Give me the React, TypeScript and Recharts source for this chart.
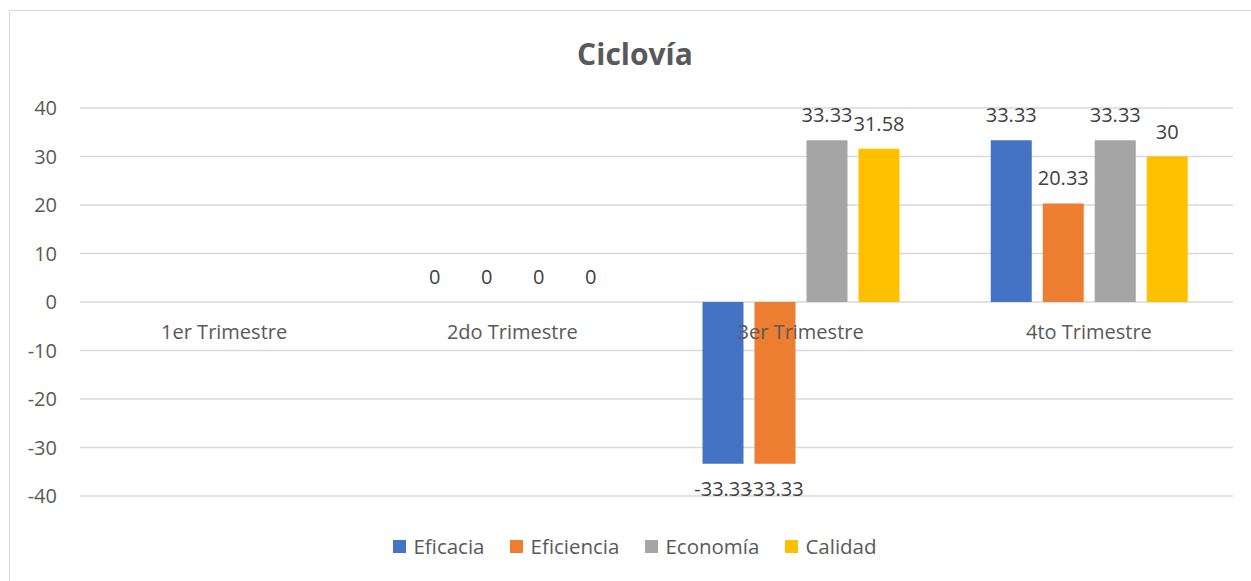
import { BarChart, Bar, XAxis, YAxis, CartesianGrid, Legend, LabelList } from "recharts";

const trimestres = ["1er Trimestre", "2do Trimestre", "3er Trimestre", "4to Trimestre"];
const eficacia = [null, 0, -33.33, 33.33];
const eficiencia = [null, 0, -33.33, 20.33];
const economia = [null, 0, 33.33, 33.33];
const calidad = [null, 0, 31.58, 30];
const yTicks = [-40, -30, -20, -10, 0, 10, 20, 30, 40];

const series = [
  { key: "Eficacia", values: eficacia, color: "#4472C4" },
  { key: "Eficiencia", values: eficiencia, color: "#ED7D31" },
  { key: "Economía", values: economia, color: "#A5A5A5" },
  { key: "Calidad", values: calidad, color: "#FFC000" },
];

const data = trimestres.map((name, i) => {
  const row: Record<string, string | number | null> = { name };
  series.forEach((s) => (row[s.key] = s.values[i]));
  return row;
});

const FONT = "'Open Sans', sans-serif";

const CategoryTick = (props: any) => {
  const { x, y, payload } = props;
  return (
    <text x={x} y={y} dy={-165} textAnchor="middle" fill="#595959" fontSize={20} fontFamily={FONT}>
      {payload.value}
    </text>
  );
};

const LegendContent = () => (
  <div style={{ display: "flex", justifyContent: "center", fontFamily: FONT, fontSize: 20.5, color: "#595959" }}>
    {series.map((s, i) => (
      <div
        key={s.key}
        style={{ display: "flex", alignItems: "center", marginRight: i === series.length - 1 ? 0 : 26 }}
      >
        <span style={{ width: 13, height: 13, background: s.color, display: "inline-block", marginRight: 7 }} />
        <span>{s.key}</span>
      </div>
    ))}
  </div>
);

export default function App() {
  return (
    <div style={{ position: "absolute", left: 0, top: 0, width: 1251, height: 581, overflow: "hidden", background: "#fff" }}>
      <div
        style={{
          position: "absolute",
          left: 9,
          top: 10,
          width: 1300,
          height: 700,
          border: "1px solid #D9D9D9",
        }}
      />
      <div
        style={{
          position: "absolute",
          top: 33,
          left: 0,
          width: 1270,
          textAlign: "center",
          fontFamily: FONT,
          fontWeight: 700,
          fontSize: 30,
          color: "#595959",
        }}
      >
        Ciclovía
      </div>
      <BarChart
        width={1251}
        height={581}
        data={data}
        margin={{ top: 108, right: 18, left: 0, bottom: 55 }}
        barSize={41}
        barGap={11}
      >
        <CartesianGrid vertical={false} stroke="#D9D9D9" strokeWidth={1.3} />
        <XAxis
          dataKey="name"
          height={30}
          axisLine={false}
          tickLine={false}
          tick={<CategoryTick />}
          interval={0}
        />
        <YAxis
          width={80}
          domain={[-40, 40]}
          ticks={yTicks}
          axisLine={false}
          tickLine={false}
          tickMargin={17}
          tick={{ fill: "#595959", fontSize: 20, fontFamily: FONT }}
        />
        <Legend
          verticalAlign="middle"
          content={<LegendContent />}
          wrapperStyle={{ top: 532, left: 0, width: 1270 }}
        />
        {series.map((s) => (
          <Bar
            key={s.key}
            dataKey={s.key}
            fill={s.color}
            isAnimationActive={false}
            minPointSize={(v: any) => (v === 0 ? 0.01 : 0)}
          >
            <LabelList
              dataKey={s.key}
              position="top"
              offset={18}
              fill="#404040"
              fontSize={20}
              fontFamily={FONT}
            />
          </Bar>
        ))}
      </BarChart>
    </div>
  );
}
